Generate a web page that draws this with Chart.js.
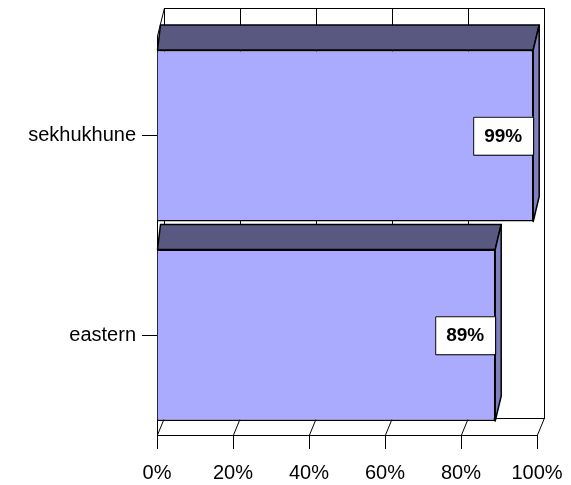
<!DOCTYPE html>
<html>
<head>
<meta charset="utf-8">
<script src="https://cdn.jsdelivr.net/npm/chart.js@4/dist/chart.umd.min.js"></script>
<style>
  html, body { margin: 0; padding: 0; background: #fff; }
  #wrap { width: 571px; height: 485px; }
</style>
</head>
<body>
<div id="wrap"><canvas id="chart"></canvas></div>
<script>
const CATEGORIES = ['sekhukhune', 'eastern']
const VALUES = [99, 89]
const X_TICKS = [0, 20, 40, 60, 80, 100]

const COLORS = {
  front: '#aaaaff',
  top: '#585880',
  side: '#8080c0',
  line: '#000000'
}

// depth of the fake 3D box
const DEPTH = { dx: 7, dyTop: 28, dyFloor: 17 }
const BAR_DEPTH = { dx: 6, dy: 25 }

const box3d = {
  id: 'box3d',
  beforeDatasetsDraw(chart) {
    const { ctx, chartArea: a, scales: { x } } = chart
    ctx.save()
    ctx.strokeStyle = COLORS.line
    ctx.lineWidth = 1
    const bTop = a.top - DEPTH.dyTop
    const bBot = a.bottom - DEPTH.dyFloor
    // back wall
    ctx.strokeRect(a.left + DEPTH.dx + 0.5, bTop + 0.5, a.right - a.left, bBot - bTop)
    // back wall grid lines + floor lines
    X_TICKS.forEach(t => {
      const px = Math.round(x.getPixelForValue(t)) + 0.5
      ctx.beginPath()
      ctx.moveTo(px + DEPTH.dx, bTop)
      ctx.lineTo(px + DEPTH.dx, bBot)
      ctx.moveTo(px + DEPTH.dx, bBot)
      ctx.lineTo(px, a.bottom)
      ctx.stroke()
    })
    // left wall edge
    ctx.beginPath()
    ctx.moveTo(a.left + DEPTH.dx + 0.5, bTop)
    ctx.lineTo(a.left + 0.5, a.top)
    ctx.lineTo(a.left + 0.5, a.bottom)
    ctx.stroke()
    ctx.restore()
  },
  afterDatasetsDraw(chart) {
    const { ctx } = chart
    const meta = chart.getDatasetMeta(0)
    ctx.save()
    ctx.strokeStyle = COLORS.line
    ctx.lineWidth = 1.5
    ctx.lineJoin = 'round'
    meta.data.forEach((bar, i) => {
      const p = bar.getProps(['x', 'y', 'base', 'height'], true)
      const x0 = p.base, x1 = p.x
      const y0 = p.y - p.height / 2, y1 = p.y + p.height / 2
      const { dx, dy } = BAR_DEPTH
      // top face
      ctx.fillStyle = COLORS.top
      ctx.beginPath()
      ctx.moveTo(x0, y0)
      ctx.lineTo(x0 + dx - 3, y0 - dy)
      ctx.lineTo(x1 + dx, y0 - dy)
      ctx.lineTo(x1, y0)
      ctx.closePath()
      ctx.fill()
      ctx.stroke()
      // side face
      ctx.fillStyle = COLORS.side
      ctx.beginPath()
      ctx.moveTo(x1, y0)
      ctx.lineTo(x1 + dx, y0 - dy)
      ctx.lineTo(x1 + dx, y1 - dy)
      ctx.lineTo(x1, y1)
      ctx.closePath()
      ctx.fill()
      ctx.stroke()
      // value label box
      const w = 60, h = 38
      ctx.fillStyle = '#ffffff'
      ctx.fillRect(x1 - w, p.y - h / 2, w, h)
      ctx.lineWidth = 1
      ctx.strokeRect(x1 - w + 0.5, p.y - h / 2 + 0.5, w, h)
      ctx.fillStyle = '#000'
      ctx.font = 'bold 19px "Liberation Sans", Arial, sans-serif'
      ctx.textAlign = 'center'
      ctx.textBaseline = 'middle'
      ctx.fillText(VALUES[i] + '%', x1 - w / 2, p.y + 1)
      ctx.lineWidth = 1.5
    })
    ctx.restore()
  }
}

var chartData = {
  labels: CATEGORIES,
  datasets: [{
    data: VALUES,
    backgroundColor: COLORS.front,
    borderColor: COLORS.line,
    borderWidth: 1.5,
    barPercentage: 0.86,
    categoryPercentage: 1
  }]
}

var chartOptions = {
  indexAxis: 'y',
  responsive: true,
  maintainAspectRatio: false,
  animation: false,
  layout: {
    padding: { top: 36, right: 34, left: 0, bottom: 0 }
  },
  scales: {
    x: {
      min: 0,
      max: 100,
      afterFit: s => { s.height = 50; s.paddingLeft = 0; s.paddingRight = 0 },
      afterBuildTicks: s => { s.ticks = X_TICKS.map(v => ({ value: v })) },
      grid: { drawOnChartArea: false, tickLength: 14, color: '#000', tickColor: '#000' },
      border: { color: '#000', width: 1 },
      ticks: {
        padding: 12,
        color: '#000',
        font: { family: '"Liberation Sans", Arial, sans-serif', size: 20 },
        callback: v => v + '%'
      }
    },
    y: {
      afterFit: s => { s.width = 157 },
      grid: { offset: false, drawOnChartArea: false, tickLength: 15, color: '#000', tickColor: '#000' },
      border: { color: '#000', width: 1 },
      ticks: {
        padding: 6,
        color: '#000',
        font: { family: '"Liberation Sans", Arial, sans-serif', size: 20 }
      }
    }
  },
  plugins: {
    legend: { display: false },
    tooltip: { enabled: false }
  }
}

const chart = new Chart(document.getElementById('chart'), {
  type: 'bar',
  data: chartData,
  plugins: [box3d],
  options: chartOptions
})
</script>
</body>
</html>
